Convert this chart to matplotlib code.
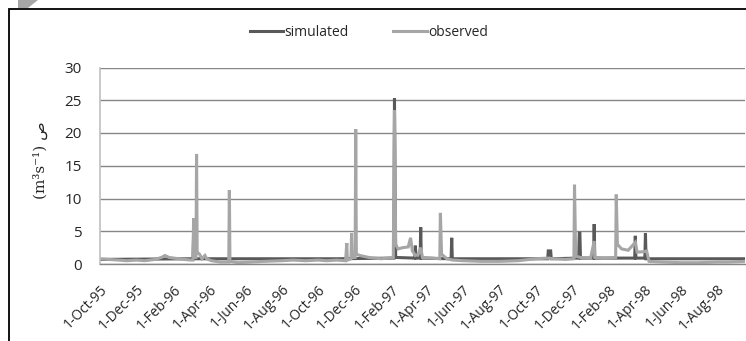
import matplotlib
matplotlib.use("Agg")
import matplotlib.pyplot as plt
from matplotlib.patches import Rectangle, Polygon
import pandas as pd

# ---------------- data ----------------
obs_dates = [
    "1995-10-01", "1995-10-15", "1995-11-01", "1995-11-15", "1995-12-01", "1995-12-15",
    "1996-01-01", "1996-01-12", "1996-01-18", "1996-01-25", "1996-02-10", "1996-03-01",
    "1996-03-05", "1996-03-06", "1996-03-07", "1996-03-10", "1996-03-11", "1996-03-12",
    "1996-03-16", "1996-03-20", "1996-03-25", "1996-03-28", "1996-04-05", "1996-04-20",
    "1996-05-04", "1996-05-05", "1996-05-06", "1996-05-20", "1996-06-10", "1996-07-01",
    "1996-08-01", "1996-08-20", "1996-09-10", "1996-10-01", "1996-10-15", "1996-11-01",
    "1996-11-16", "1996-11-18", "1996-11-19", "1996-11-25", "1996-11-26", "1996-11-27",
    "1996-12-02", "1996-12-03", "1996-12-04", "1996-12-10", "1996-12-25", "1997-01-15",
    "1997-02-04", "1997-02-06", "1997-02-08", "1997-02-12", "1997-02-20", "1997-03-01",
    "1997-03-05", "1997-03-08", "1997-03-13", "1997-03-18", "1997-03-22", "1997-03-25",
    "1997-04-10", "1997-04-23", "1997-04-24", "1997-04-26", "1997-05-05", "1997-05-15",
    "1997-06-01", "1997-07-01", "1997-08-01", "1997-09-01", "1997-10-01", "1997-10-20",
    "1997-11-01", "1997-11-20", "1997-12-04", "1997-12-05", "1997-12-07", "1997-12-15",
    "1998-01-01", "1998-01-07", "1998-01-08", "1998-01-25", "1998-02-12", "1998-02-13",
    "1998-02-15", "1998-02-22", "1998-03-05", "1998-03-17", "1998-03-20", "1998-04-02",
    "1998-04-05", "1998-04-09", "1998-05-01", "1998-06-01", "1998-07-01", "1998-08-01",
    "1998-08-20", "1998-09-15",
]
obs_values = [
    0.8, 0.7, 0.6, 0.5, 0.6, 0.5,
    0.7, 1.0, 1.3, 1.0, 0.8, 0.6,
    0.6, 7.0, 1.0, 1.0, 16.8, 1.8,
    1.5, 0.8, 1.3, 0.8, 0.5, 0.3,
    0.3, 11.3, 0.4, 0.2, 0.3, 0.4,
    0.5, 0.6, 0.5, 0.6, 0.5, 0.6,
    0.5, 3.2, 0.6, 0.8, 4.7, 1.0,
    1.0, 20.6, 1.5, 1.3, 1.0, 0.8,
    1.0, 23.5, 3.0, 2.3, 2.5, 2.6,
    4.0, 2.0, 1.3, 1.5, 2.5, 1.0,
    0.9, 0.8, 7.8, 1.5, 0.8, 0.6,
    0.5, 0.4, 0.4, 0.5, 0.8, 0.9,
    0.8, 0.7, 0.8, 12.1, 1.2, 1.0,
    0.9, 3.5, 1.0, 0.9, 1.0, 10.6,
    3.0, 2.3, 2.1, 3.3, 1.8, 1.9,
    2.0, 0.4, 0.3, 0.2, 0.2, 0.3,
    0.3, 0.4,
]

sim_dates = [
    "1995-10-01", "1996-03-05", "1996-03-06", "1996-03-07", "1996-11-01", "1997-02-05",
    "1997-02-06", "1997-02-07", "1997-02-08", "1997-03-12", "1997-03-13", "1997-03-14",
    "1997-03-21", "1997-03-22", "1997-03-23", "1997-05-12", "1997-05-13", "1997-05-14",
    "1997-10-21", "1997-10-22", "1997-10-26", "1997-10-27", "1997-12-12", "1997-12-13",
    "1997-12-14", "1997-12-15", "1998-01-06", "1998-01-07", "1998-01-08", "1998-03-16",
    "1998-03-17", "1998-03-18", "1998-04-02", "1998-04-03", "1998-04-04", "1998-09-15",
]
sim_values = [
    0.7, 0.8, 4.7, 0.8, 0.8, 0.9,
    25.3, 12.0, 1.0, 0.9, 2.8, 0.9,
    0.9, 5.6, 0.9, 0.8, 4.0, 0.8,
    0.8, 2.0, 2.0, 0.8, 0.9, 4.7,
    4.7, 0.9, 0.9, 6.1, 0.9, 0.9,
    4.3, 0.9, 0.9, 4.7, 0.8, 0.8,
]

tick_labels = ["1-Oct-95", "1-Dec-95", "1-Feb-96", "1-Apr-96", "1-Jun-96", "1-Aug-96",
               "1-Oct-96", "1-Dec-96", "1-Feb-97", "1-Apr-97", "1-Jun-97", "1-Aug-97",
               "1-Oct-97", "1-Dec-97", "1-Feb-98", "1-Apr-98", "1-Jun-98", "1-Aug-98"]
y_ticks = [0, 5, 10, 15, 20, 25, 30]

# ---------------- figure ----------------
W, H = 746, 341
fig = plt.figure(figsize=(W / 100, H / 100), dpi=100)
plt.rcParams['font.family'] = ['Open Sans', 'DejaVu Sans']

# outer border & corner mark
fig.patches.append(Rectangle((9 / W, -0.1), 2.0, 1 - 8.5 / H + 0.1, transform=fig.transFigure,
                             fill=False, edgecolor='black', linewidth=1.3))
fig.patches.append(Polygon([(18 / W, 1), (38 / W, 1), (28 / W, 1 - 8 / H), (18 / W, 1 - 8 / H)],
                           closed=True, transform=fig.transFigure, facecolor='#a6a6a6',
                           edgecolor='none'))

ax = fig.add_axes([100 / W, 77 / H, 645 / W, (264 - 67.5) / H])

od = pd.to_datetime(obs_dates)
sd = pd.to_datetime(sim_dates)
ax.plot(sd, sim_values, color='#595959', lw=2.2, label='simulated', solid_joinstyle='miter')
ax.plot(od, obs_values, color='#a6a6a6', lw=2.2, label='observed', solid_joinstyle='miter')

ax.set_ylim(0, 30)
ax.set_yticks(y_ticks)
ax.set_xlim(pd.Timestamp("1995-10-01"), pd.Timestamp("1998-09-17"))
tick_pos = pd.to_datetime(tick_labels, format="%d-%b-%y")
ax.set_xticks(tick_pos)
ax.set_xticklabels(tick_labels, rotation=45, ha='right', rotation_mode='anchor',
                   fontsize=10, color='#262626')
ax.tick_params(axis='x', length=0, pad=13)
ax.tick_params(axis='y', length=0, pad=13, labelsize=11, labelcolor='#262626')

ax.grid(axis='y', color='#868686', lw=1.0)
ax.set_axisbelow(True)
for s in ['top', 'right']:
    ax.spines[s].set_visible(False)
ax.spines['left'].set_color('#bfbfbf')
ax.spines['left'].set_linewidth(1.2)
ax.spines['bottom'].set_color('#868686')
ax.spines['bottom'].set_linewidth(1.0)

fig.text(40 / W, 1 - 160 / H, "(m³s⁻¹) ص", rotation=90, ha='center', va='center',
         fontsize=11, family=['DejaVu Serif', 'DejaVu Sans'], color='#262626')

leg = fig.legend(loc='center', bbox_to_anchor=(369 / W, 1 - 32 / H), ncol=2, frameon=False,
                 fontsize=10, handlelength=2.4, handletextpad=0.1, columnspacing=3.2)
for t in leg.get_texts():
    t.set_color('#262626')

fig.savefig("out.png", dpi=100)
